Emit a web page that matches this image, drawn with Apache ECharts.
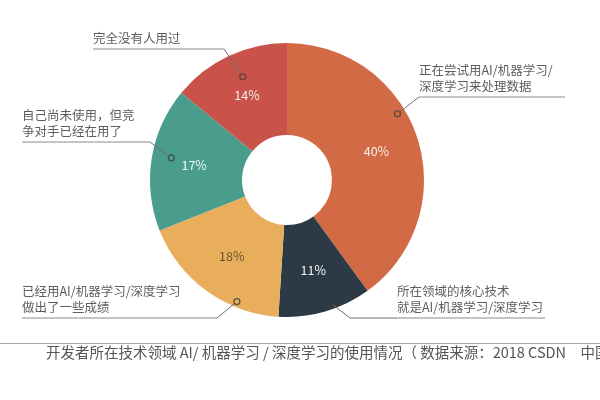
<!DOCTYPE html>
<html><head><meta charset="utf-8">
<script src="https://cdn.jsdelivr.net/npm/echarts@6/dist/echarts.min.js"></script>
<style>html,body{margin:0;padding:0;background:#fff}#c{width:600px;height:400px}</style>
</head><body><div id="c"></div>
<script>
// ---- data ----
const categories = [
  '正在尝试用AI/机器学习/\n深度学习来处理数据',
  '所在领域的核心技术\n就是AI/机器学习/深度学习',
  '已经用AI/机器学习/深度学习\n做出了一些成绩',
  '自己尚未使用，但竞\n争对手已经在用了',
  '完全没有人用过'
];
const values = [40, 11, 18, 17, 14];
const titleText = '开发者所在技术领域 AI/ 机器学习 / 深度学习的使用情况（ 数据来源：2018 CSDN　中国开发者大调查 ）';

// ---- style / layout ----
const FONT = '"Noto Sans CJK SC", "Noto Sans", sans-serif';
const colors = ['#d26a45', '#2c3a45', '#e9ae5c', '#4a9d8c', '#c9534b'];
const pctColors = ['#fbeee6', '#f2f2f2', '#6b5233', '#f0faf7', '#fbecea'];
const CENTER = [287, 180];
const R_IN = 45, R_OUT = 137;
// leader anchor: [fraction along slice angle, fraction of outer radius]
const anchorAt = [[0.41, 0.94], [0.42, 0.95], [0.29, 0.96], [0.53, 0.86], [0.54, 0.82]];
// label boxes: left x, underline y, underline width, extra leader length
const labelBoxes = [
  {x: 419, y: 97, w: 146, gap: 0},
  {x: 397, y: 318, w: 148, gap: 47},
  {x: 22, y: 318, w: 195, gap: 0},
  {x: 22, y: 142, w: 128, gap: 0},
  {x: 93, y: 49, w: 131, gap: 0}
];
const LINE_H = 16, SP_H = 2;
const LINE_COLOR = '#6e6e6e';

const total = values.reduce((a, b) => a + b, 0);
let acc = 0;
const anchorData = values.map((v, i) => {
  const start = acc; acc += v;
  const lines = categories[i].split('\n');
  const txt = lines.map(l => '{t|' + l + '}').join('\n') + '\n{sp| }\n{hr| }';
  const padB = lines.length * LINE_H + SP_H;
  return {
    value: [anchorAt[i][1], start + v * anchorAt[i][0]],
    label: {
      show: true,
      formatter: txt,
      padding: [0, 0, padB, 0],
      backgroundColor: 'transparent',
      rich: {
        t: {fontSize: 12.5, lineHeight: LINE_H, color: '#333', fontFamily: FONT},
        sp: {fontSize: 2, lineHeight: SP_H, height: SP_H},
        hr: {fontSize: 1, width: labelBoxes[i].w, height: 1, lineHeight: 1, backgroundColor: LINE_COLOR}
      }
    },
    labelLine: {show: true, length2: labelBoxes[i].gap, lineStyle: {color: LINE_COLOR, width: 1}}
  };
});

const pieData = categories.map((c, i) => ({
  name: c, value: values[i],
  itemStyle: {color: colors[i]},
  label: {color: pctColors[i]}
}));

const chart = echarts.init(document.getElementById('c'));
chart.setOption({
  animation: false,
  backgroundColor: '#fff',
  title: {
    text: titleText, left: 46, top: 345, padding: 0,
    textStyle: {fontSize: 14.5, fontWeight: 'normal', color: '#555', fontFamily: FONT}
  },
  graphic: [{
    type: 'line', silent: true,
    shape: {x1: 0, y1: 343.5, x2: 600, y2: 343.5},
    style: {stroke: '#a8a8a8', lineWidth: 1}
  }],
  polar: {center: CENTER, radius: R_OUT},
  angleAxis: {type: 'value', min: 0, max: total, startAngle: 90, clockwise: true, show: false,
    axisLine: {show: false}, splitLine: {show: false}, axisLabel: {show: false}, axisTick: {show: false}},
  radiusAxis: {type: 'value', min: 0, max: 1, show: false,
    axisLine: {show: false}, splitLine: {show: false}, axisLabel: {show: false}, axisTick: {show: false}},
  series: [
    {
      type: 'pie', center: CENTER, radius: [R_IN, R_OUT], startAngle: 90, clockwise: true,
      z: 2, silent: true,
      label: {show: true, position: 'inside', formatter: '{c}%', fontSize: 12.5, fontFamily: FONT},
      labelLine: {show: false},
      emphasis: {disabled: true},
      data: pieData
    },
    {
      type: 'scatter', coordinateSystem: 'polar', z: 5, silent: true,
      symbol: 'circle', symbolSize: 6,
      itemStyle: {color: 'rgba(0,0,0,0)', borderColor: '#3a3a3a', borderWidth: 1.2},
      labelLayout: function (p) {
        const b = labelBoxes[p.dataIndex];
        return {x: b.x, y: b.y, align: 'left', verticalAlign: 'middle'};
      },
      emphasis: {disabled: true},
      data: anchorData
    }
  ]
});
</script></body></html>
